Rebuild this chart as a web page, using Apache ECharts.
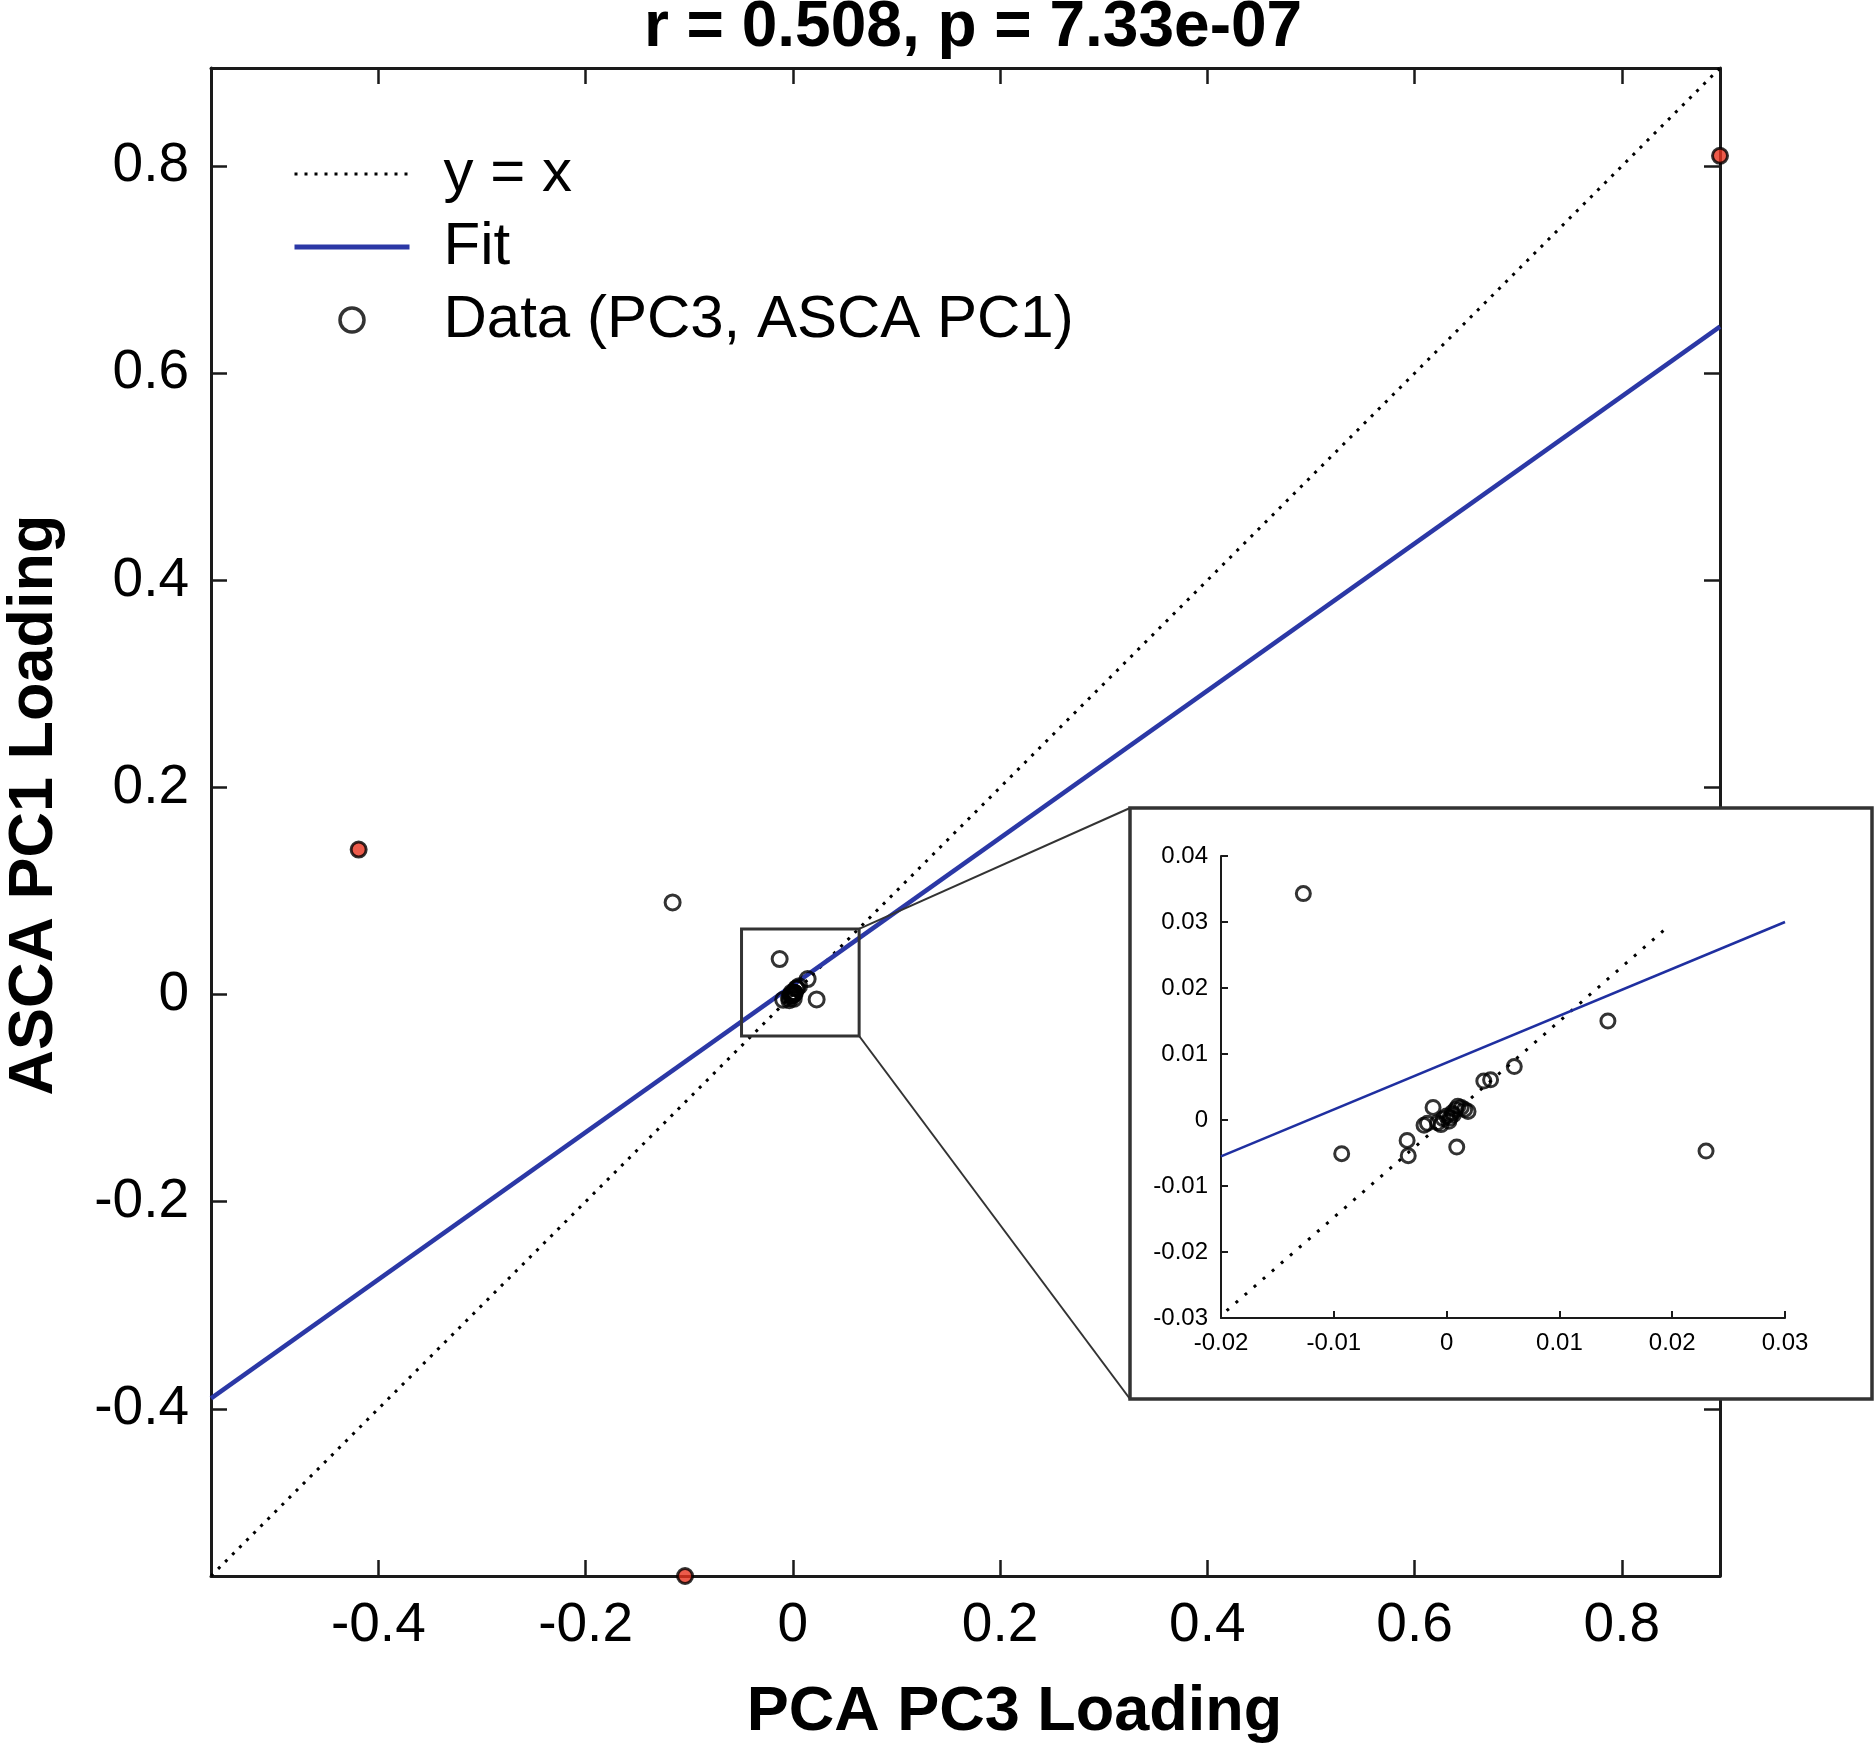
<!DOCTYPE html>
<html><head><meta charset="utf-8">
<script src="https://cdn.jsdelivr.net/npm/echarts@6/dist/echarts.min.js"></script>
<style>html,body{margin:0;padding:0;background:#fff}#c{width:1875px;height:1753px}</style>
</head><body><div id="c"></div>
<script>
// ---------- text ----------
const titleText = 'r = 0.508, p = 7.33e-07';
const xName = 'PCA PC3 Loading';
const yName = 'ASCA PC1 Loading';
const legendNames = ['y = x', 'Fit', 'Data (PC3, ASCA PC1)'];

// ---------- data ----------
// points near the origin (shown in both the main plot and the inset)
const clusterX = [-0.0127, -0.0093, -0.0035, -0.0034, -0.0020, -0.0017, -0.0012, 0.0009, 0.0033, 0.0039, 0.0060, 0.0143, 0.0230,
                  -0.0008, -0.0005, -0.0003, 0.0000, 0.0003, 0.0005, 0.0008, 0.0010, 0.0013, 0.0016, 0.0019, 0.0002, 0.0006];
const clusterY = [ 0.0343, -0.0051, -0.0031, -0.0054, -0.0008, -0.0005, 0.0019, -0.0041, 0.0059, 0.0061, 0.0081, 0.0150, -0.0047,
                  -0.0004, -0.0007, 0.0002, 0.0006, 0.0003, 0.0011, 0.0016, 0.0021, 0.0019, 0.0016, 0.0013, -0.0002, 0.0008];
// other open-circle point
const outlierX = [-0.116];
const outlierY = [0.089];
// red highlighted points
const redX = [0.8948, -0.419, -0.104];
const redY = [0.810, 0.140, -0.5615];
// fit line end points (main)
const fitX = [-0.5615, 0.8948];
const fitY = [-0.390, 0.645];
// inset lines
const insetFitX = [-0.02, 0.03];
const insetFitY = [-0.0055, 0.0300];
const insetDiagX = [-0.0195, 0.0197];
const insetDiagY = [-0.0289, 0.0294];
// inset axis ranges / step
const insetXRange = [-0.02, 0.03];
const insetYRange = [-0.03, 0.04];
const insetStep = 0.01;
// zoom box drawn in the main plot (data coordinates)
const zoomBoxX = [-0.0495, 0.064];
const zoomBoxY = [-0.040, 0.0634];
const mainStep = 0.2;

// ---------- layout ----------
const FONT = '"Liberation Sans", Arial, Helvetica, sans-serif';
const MAIN = {left: 211, top: 68, width: 1509, height: 1508};
const INSET = {left: 1221, top: 856, width: 564, height: 462};
const FRAME = {x: 1130, y: 808, w: 742, h: 591};
const AXIS_COLOR = '#1a1a1a';
const FIT_COLOR = '#2b38a6';

const allX = clusterX.concat(outlierX, redX);
const allY = clusterY.concat(outlierY, redY);
const lo = Math.min(...allX, ...allY);
const hi = Math.max(...allX, ...allY);

const zip = (a, b) => a.map((v, i) => [v, b[i]]);

function mainAxis(extra) {
  return Object.assign({
    type: 'value', gridIndex: 0, min: lo, max: hi, splitNumber: 7,
    minInterval: mainStep, maxInterval: mainStep,
    splitLine: {show: false},
    axisLine: {show: true, onZero: false, lineStyle: {color: AXIS_COLOR, width: 3}},
    axisTick: {show: true, inside: true, length: 16, lineStyle: {color: AXIS_COLOR, width: 2.5}},
    axisLabel: {show: true, showMinLabel: false, showMaxLabel: false, fontSize: 55, fontFamily: FONT, color: '#000', margin: 22},
    z: 1
  }, extra);
}
function insetAxis(extra) {
  return Object.assign({
    type: 'value', gridIndex: 1, interval: insetStep,
    splitLine: {show: false},
    axisLine: {show: true, onZero: false, lineStyle: {color: AXIS_COLOR, width: 2}},
    axisTick: {show: true, inside: true, length: 7, lineStyle: {color: AXIS_COLOR, width: 2}},
    axisLabel: {fontSize: 24, fontFamily: FONT, color: '#000', margin: 13},
    z: 60
  }, extra);
}

const openStyle = {color: 'rgba(0,0,0,0)', borderColor: '#000', borderWidth: 3};
const hiddenSymbol = {color: 'rgba(0,0,0,0)', borderColor: 'rgba(0,0,0,0)', borderWidth: 0, opacity: 0};

const option = {
  animation: false,
  backgroundColor: '#fff',
  grid: [
    {left: MAIN.left, top: MAIN.top, width: MAIN.width, height: MAIN.height, containLabel: false, outerBoundsMode: 'none'},
    {left: INSET.left, top: INSET.top, width: INSET.width, height: INSET.height, containLabel: false, outerBoundsMode: 'none'}
  ],
  xAxis: [
    mainAxis({position: 'bottom', name: xName, nameLocation: 'middle', nameGap: 105,
      nameTextStyle: {fontSize: 63, fontWeight: 'bold', fontFamily: FONT, color: '#000', padding: [0, 0, 0, 98]}}),
    mainAxis({position: 'top', axisLabel: {show: false}}),
    insetAxis({min: insetXRange[0], max: insetXRange[1], position: 'bottom'})
  ],
  yAxis: [
    mainAxis({position: 'left', name: yName, nameLocation: 'middle', nameGap: 145, nameRotate: 90,
      nameTextStyle: {fontSize: 63, fontWeight: 'bold', fontFamily: FONT, color: '#000', padding: [0, 0, 0, 34]}}),
    mainAxis({position: 'right', axisLabel: {show: false}}),
    insetAxis({min: insetYRange[0], max: insetYRange[1], position: 'left'})
  ],
  legend: {
    orient: 'vertical', left: 287, top: 139, itemWidth: 115, itemHeight: 24, itemGap: 13,
    selectedMode: false,
    textStyle: {fontSize: 60, fontFamily: FONT, color: '#000', lineHeight: 60, padding: [0, 0, 0, 29]},
    data: [
      {name: legendNames[0], itemStyle: hiddenSymbol, lineStyle: {color: '#000', width: 3, type: [3, 7]}},
      {name: legendNames[1], itemStyle: hiddenSymbol, lineStyle: {color: FIT_COLOR, width: 5}},
      {name: legendNames[2], icon: 'circle', itemStyle: {color: 'rgba(0,0,0,0)', borderColor: '#000', borderWidth: 3.5}}
    ]
  },
  series: [
    {name: legendNames[0], type: 'line', xAxisIndex: 0, yAxisIndex: 0, data: [[lo, lo], [hi, hi]],
     symbol: 'none', itemStyle: {color: '#000'}, lineStyle: {color: '#000', width: 3, type: [3, 7]}, z: 2},
    {name: legendNames[1], type: 'line', xAxisIndex: 0, yAxisIndex: 0, data: zip(fitX, fitY),
     symbol: 'none', itemStyle: {color: FIT_COLOR}, lineStyle: {color: FIT_COLOR, width: 4.5}, z: 3},
    {name: legendNames[2], type: 'scatter', xAxisIndex: 0, yAxisIndex: 0,
     data: zip(clusterX.concat(outlierX), clusterY.concat(outlierY)),
     symbol: 'circle', symbolSize: 15, itemStyle: openStyle, z: 4},
    {name: 'highlight', type: 'scatter', xAxisIndex: 0, yAxisIndex: 0, data: zip(redX, redY), clip: false,
     symbol: 'circle', symbolSize: 15, itemStyle: {color: '#e8321e', borderColor: '#000', borderWidth: 3}, z: 5},
    {name: 'inset y = x', type: 'line', xAxisIndex: 2, yAxisIndex: 2, data: zip(insetDiagX, insetDiagY),
     symbol: 'none', lineStyle: {color: '#000', width: 3, type: [3, 9]}, z: 61},
    {name: 'inset fit', type: 'line', xAxisIndex: 2, yAxisIndex: 2, data: zip(insetFitX, insetFitY),
     symbol: 'none', lineStyle: {color: '#1f2fa0', width: 2.5}, z: 62},
    {name: 'inset data', type: 'scatter', xAxisIndex: 2, yAxisIndex: 2, data: zip(clusterX, clusterY),
     symbol: 'circle', symbolSize: 14, itemStyle: {color: 'rgba(0,0,0,0)', borderColor: '#000', borderWidth: 3}, z: 63}
  ]
};

const chart = echarts.init(document.getElementById('c'), null, {renderer: 'canvas', width: 1875, height: 1753});
chart.setOption(option);

// annotation: zoom box, connectors, inset frame, title
const pTL = chart.convertToPixel({xAxisIndex: 0, yAxisIndex: 0}, [zoomBoxX[0], zoomBoxY[1]]);
const pBR = chart.convertToPixel({xAxisIndex: 0, yAxisIndex: 0}, [zoomBoxX[1], zoomBoxY[0]]);
chart.setOption({
  graphic: [
    {type: 'rect', z: 50, shape: {x: FRAME.x, y: FRAME.y, width: FRAME.w, height: FRAME.h},
     style: {fill: '#fff', stroke: '#333', lineWidth: 3.5}},
    {type: 'rect', z: 6, shape: {x: pTL[0], y: pTL[1], width: pBR[0] - pTL[0], height: pBR[1] - pTL[1]},
     style: {fill: 'none', stroke: '#333', lineWidth: 3}},
    {type: 'line', z: 6, shape: {x1: pBR[0], y1: pTL[1], x2: FRAME.x, y2: FRAME.y},
     style: {stroke: '#333', lineWidth: 2}},
    {type: 'line', z: 6, shape: {x1: pBR[0], y1: pBR[1], x2: FRAME.x, y2: FRAME.y + FRAME.h},
     style: {stroke: '#333', lineWidth: 2}},
    {type: 'text', z: 70, x: 973, y: 28,
     style: {text: titleText, fill: '#000', font: 'bold 64px ' + FONT, align: 'center', verticalAlign: 'middle'}}
  ]
});
</script>
</body></html>
